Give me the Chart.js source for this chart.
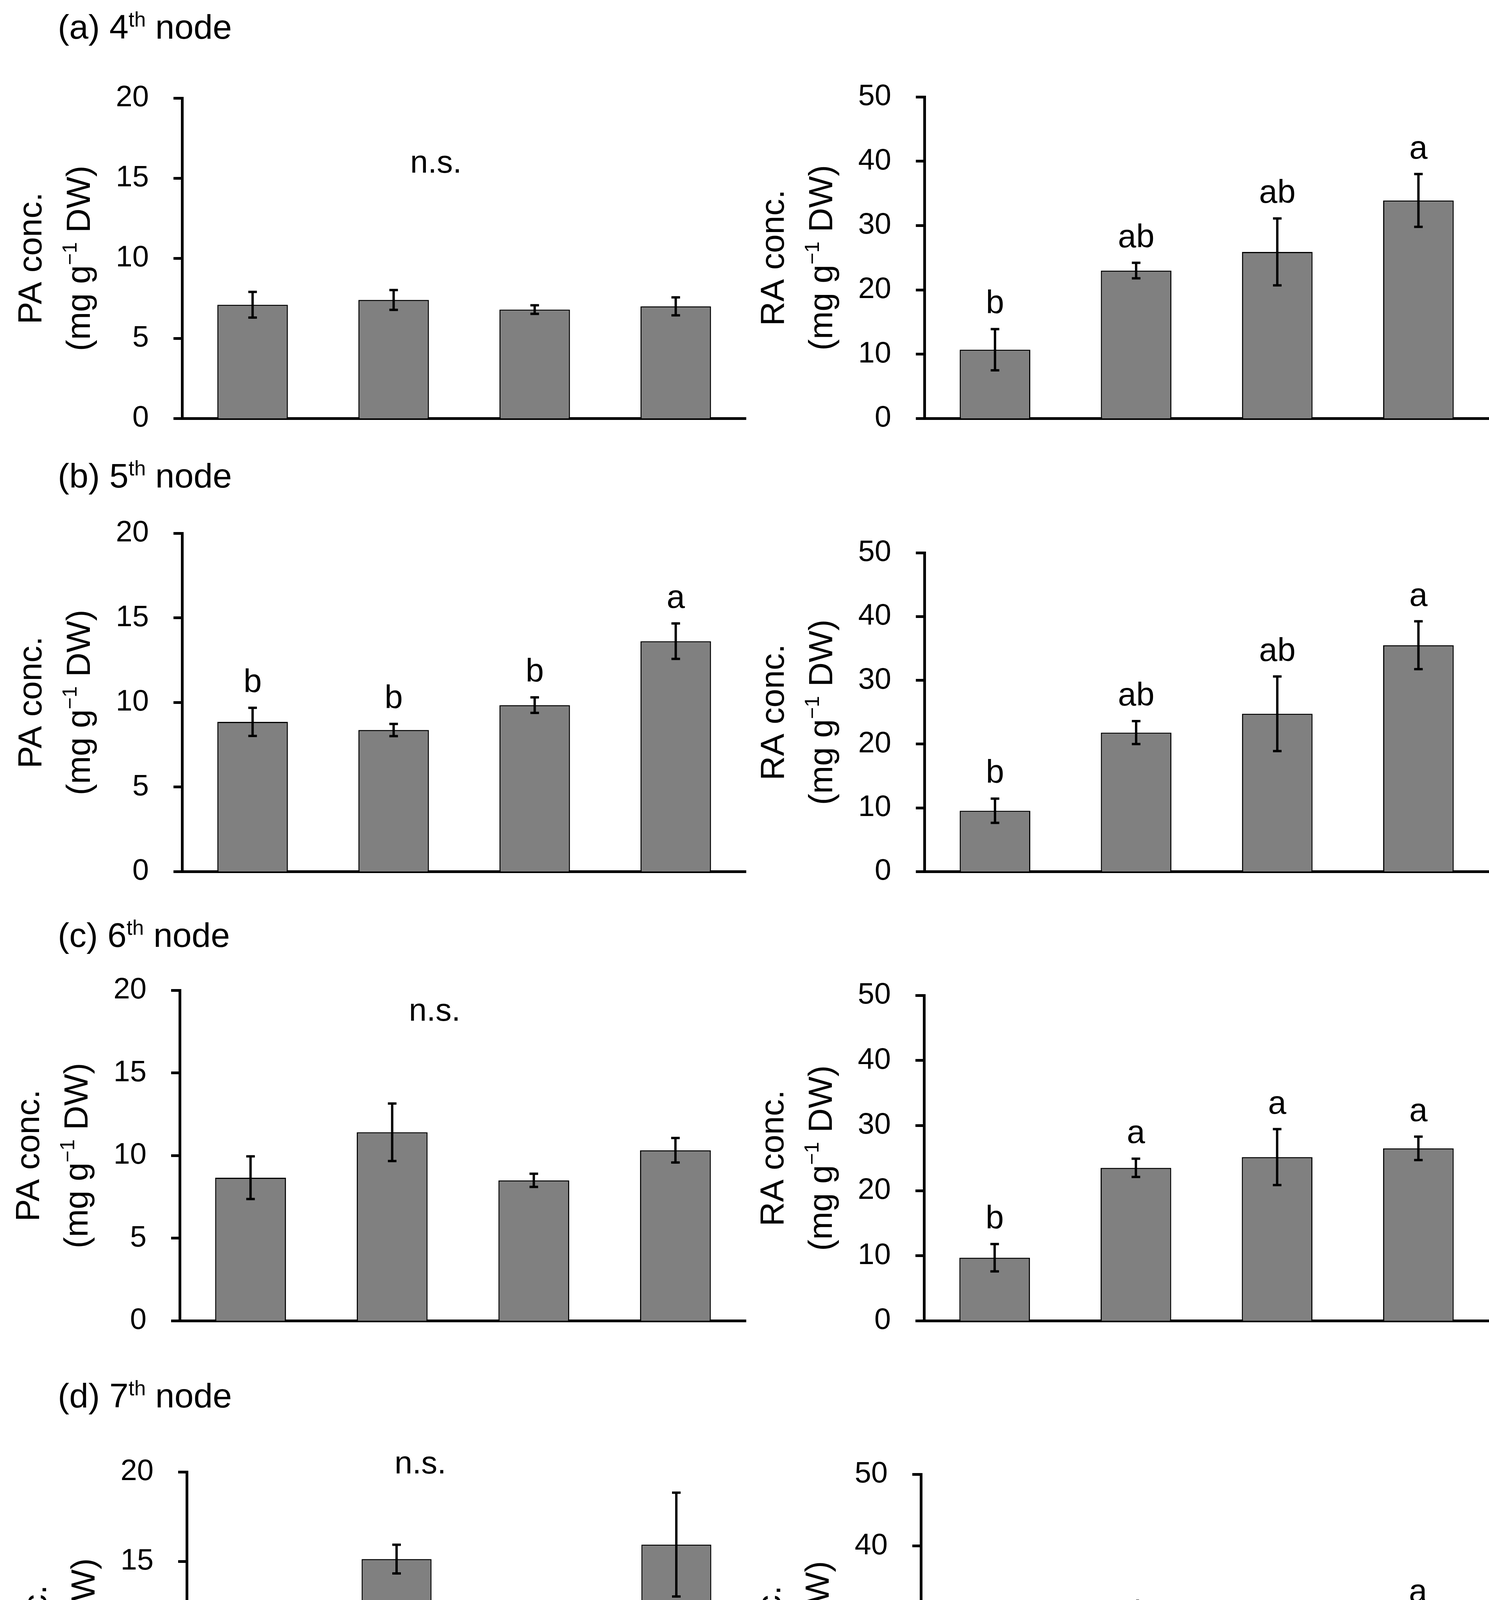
<!DOCTYPE html>
<html>
<head>
<meta charset="utf-8">
<script src="https://cdn.jsdelivr.net/npm/chart.js@4.4.1/dist/chart.umd.min.js"></script>
<style>
  html, body { margin: 0; padding: 0; background: #fff; }
  #page { position: relative; width: 3811px; height: 4916px; background: #fff; overflow: hidden; }
  #page canvas { position: absolute; }
  .ptitle { position: absolute; font-family: 'Liberation Sans', Arial, sans-serif; font-size: 88px; line-height: 88px; color: #000; white-space: nowrap; }
  .ptitle span { font-size: 53px; position: relative; top: -31px; }
</style>
</head>
<body>
<div id="page">
  <div class="ptitle" style="left:148px;top:25px">(a) 4<span>th</span> node</div>
  <div class="ptitle" style="left:148px;top:1174px">(b) 5<span>th</span> node</div>
  <div class="ptitle" style="left:148px;top:2350px">(c) 6<span>th</span> node</div>
  <div class="ptitle" style="left:148px;top:3529px">(d) 7<span>th</span> node</div>
</div>
<script>
// categories and tick labels
const treatments = ['Control', '0.05W', '0.1W', '0.2W'];
const paTicks = [0, 5, 10, 15, 20];
const raTicks = [0, 10, 20, 30, 40, 50];

// PA conc. (mg g-1 DW), mean and error per node
const pa4 = [7.1, 7.4, 6.8, 7.0];
const pa4Err = [0.8, 0.62, 0.27, 0.56];
const pa5 = [8.85, 8.37, 9.84, 13.62];
const pa5Err = [0.83, 0.36, 0.46, 1.05];
const pa6 = [8.66, 11.41, 8.5, 10.32];
const pa6Err = [1.29, 1.74, 0.4, 0.74];
const pa7 = [10.83, 15.13, 11.15, 15.94];
const pa7Err = [1.08, 0.8, 0.49, 2.9];

// RA conc. (mg g-1 DW)
const ra4 = [10.7, 23.0, 25.9, 33.9];
const ra4Err = [3.2, 1.2, 5.2, 4.1];
const ra5 = [9.55, 21.8, 24.75, 35.5];
const ra5Err = [1.9, 1.8, 5.85, 3.75];
const ra6 = [9.7, 23.5, 25.15, 26.5];
const ra6Err = [2.1, 1.4, 4.3, 1.8];
const ra7 = [17.05, 25.4, 21.4, 28.6];
const ra7Err = [2.6, 1.65, 3.2, 1.42];

// significance letters
const pa5Letters = ['b', 'b', 'b', 'a'];
const ra4Letters = ['b', 'ab', 'ab', 'a'];
const ra5Letters = ['b', 'ab', 'ab', 'a'];
const ra6Letters = ['b', 'a', 'a', 'a'];
const ra7Letters = ['b', 'ab', 'ab', 'a'];

Chart.defaults.font.family = "'Liberation Sans', Arial, sans-serif";
Chart.defaults.color = '#000';

const page = document.getElementById('page');
const AXIS_BOTTOM_ROW = 4908; // bottom edge of the x scale box on the last row

function makePanel(p) {
  const cv = document.createElement('canvas');
  cv.width = p.w; cv.height = p.h;
  cv.style.left = p.x0 + 'px'; cv.style.top = p.y0 + 'px';
  cv.style.width = p.w + 'px'; cv.style.height = p.h + 'px';
  page.appendChild(cv);

  const xH = p.lastRow ? AXIS_BOTTOM_ROW - p.bottom : 12;

  const extras = {
    id: 'extras',
    afterDatasetsDraw(chart) {
      const ctx = chart.ctx, xs = chart.scales.x, ys = chart.scales.y;
      ctx.save();
      ctx.strokeStyle = '#000';
      ctx.lineWidth = 6;
      ctx.fillStyle = '#000';
      ctx.font = "84px 'Liberation Sans', Arial, sans-serif";
      ctx.textAlign = 'center';
      ctx.textBaseline = 'alphabetic';
      p.values.forEach((v, i) => {
        const x = xs.getPixelForValue(i);
        const yHi = ys.getPixelForValue(v + p.errs[i]);
        const yLo = ys.getPixelForValue(v - p.errs[i]);
        ctx.beginPath();
        ctx.moveTo(x, yHi); ctx.lineTo(x, yLo);
        ctx.moveTo(x - 11, yHi); ctx.lineTo(x + 11, yHi);
        ctx.moveTo(x - 11, yLo); ctx.lineTo(x + 11, yLo);
        ctx.stroke();
        if (p.letters) ctx.fillText(p.letters[i], x, yHi - 40);
      });
      if (p.ns) {
        ctx.font = "82px 'Liberation Sans', Arial, sans-serif";
        ctx.textBaseline = 'middle';
        ctx.fillText('n.s.', xs.getPixelForValue(p.ns[0]), ys.getPixelForValue(p.ns[1]));
      }
      ctx.restore();
    },
    afterDraw(chart) {
      // two-line y title with a real superscript
      const ctx = chart.ctx, ca = chart.chartArea;
      const yc = (ca.top + ca.bottom) / 2;
      const size = 86, sup = 52;
      const mainFont = size + "px 'Liberation Sans', Arial, sans-serif";
      const supFont = sup + "px 'Liberation Sans', Arial, sans-serif";
      ctx.save();
      ctx.fillStyle = '#000';
      ctx.textBaseline = 'alphabetic';
      ctx.translate(ca.left - 360, yc);
      ctx.rotate(-Math.PI / 2);
      ctx.font = mainFont;
      ctx.textAlign = 'center';
      ctx.fillText(p.name + ' conc.', 0, 0);
      ctx.restore();

      ctx.save();
      ctx.fillStyle = '#000';
      ctx.textBaseline = 'alphabetic';
      ctx.textAlign = 'left';
      ctx.translate(ca.left - 236, yc);
      ctx.rotate(-Math.PI / 2);
      const a = '(mg g', b = '\u22121', c = ' DW)';
      ctx.font = mainFont; const wa = ctx.measureText(a).width, wc = ctx.measureText(c).width;
      ctx.font = supFont; const wb = ctx.measureText(b).width;
      let x = -(wa + wb + wc) / 2;
      ctx.font = mainFont; ctx.fillText(a, x, 0); x += wa;
      ctx.font = supFont; ctx.fillText(b, x, -34); x += wb;
      ctx.font = mainFont; ctx.fillText(c, x, 0);
      ctx.restore();
    }
  };

  new Chart(cv, {
    type: 'bar',
    data: {
      labels: treatments,
      datasets: [{
        data: p.values,
        backgroundColor: '#808080',
        borderColor: '#000',
        borderWidth: 3,
        barPercentage: 0.5,
        categoryPercentage: 1.0
      }]
    },
    options: {
      responsive: false,
      animation: false,
      devicePixelRatio: 1,
      layout: {
        padding: {
          left: 0,
          right: p.x0 + p.w - p.xEnd,
          top: p.top - p.y0,
          bottom: p.y0 + p.h - p.bottom - xH
        }
      },
      plugins: { legend: { display: false }, tooltip: { enabled: false } },
      scales: {
        x: {
          grid: { display: false, drawTicks: false },
          border: { display: true, color: '#000', width: 7 },
          ticks: { display: !!p.lastRow, font: { size: 74 }, padding: 45, maxRotation: 0, autoSkip: false },
          title: { display: !!p.lastRow, text: 'Treatment', font: { size: 92, lineHeight: 1 }, padding: 0 },
          afterFit: s => { s.height = xH; }
        },
        y: {
          min: p.ticks[0],
          max: p.ticks[p.ticks.length - 1],
          afterBuildTicks: s => { s.ticks = p.ticks.map(v => ({ value: v })); },
          grid: { drawOnChartArea: false, drawTicks: true, tickLength: 22, tickWidth: 7, tickColor: '#000' },
          border: { display: true, color: '#000', width: 7 },
          ticks: { font: { size: 76 }, padding: 63 },
          afterFit: s => { s.width = p.axisX - p.x0; }
        }
      }
    },
    plugins: [extras]
  });
}

// rows: canvas band and axis geometry (pixels)
const rows = [
  { y0: 0,    h: 1180, L: { axisX: 466, top: 251,  bottom: 1140 }, R: { axisX: 2366, top: 248,  bottom: 1150 } },
  { y0: 1180, h: 1160, L: { axisX: 466, top: 1365, bottom: 2282 }, R: { axisX: 2366, top: 1415, bottom: 2310 } },
  { y0: 2340, h: 1150, L: { axisX: 460, top: 2535, bottom: 3451 }, R: { axisX: 2365, top: 2548, bottom: 3464 } },
  { y0: 3490, h: 1426, L: { axisX: 478, top: 3768, bottom: 4685 }, R: { axisX: 2357, top: 3774, bottom: 4693 } }
];

const paSets = [
  { values: pa4, errs: pa4Err, ns: [1.3, 15.9] },
  { values: pa5, errs: pa5Err, letters: pa5Letters },
  { values: pa6, errs: pa6Err, ns: [1.3, 18.7] },
  { values: pa7, errs: pa7Err, ns: [1.17, 20.4] }
];
const raSets = [
  { values: ra4, errs: ra4Err, letters: ra4Letters },
  { values: ra5, errs: ra5Err, letters: ra5Letters },
  { values: ra6, errs: ra6Err, letters: ra6Letters },
  { values: ra7, errs: ra7Err, letters: ra7Letters }
];

rows.forEach((r, i) => {
  const lastRow = i === rows.length - 1;
  makePanel(Object.assign({ name: 'PA', ticks: paTicks, x0: 0, w: 1910, xEnd: 1910, y0: r.y0, h: r.h, lastRow }, r.L, paSets[i]));
  makePanel(Object.assign({ name: 'RA', ticks: raTicks, x0: 1905, w: 1906, xEnd: 3811, y0: r.y0, h: r.h, lastRow }, r.R, raSets[i]));
});

// keep the HTML titles above the canvases
document.querySelectorAll('.ptitle').forEach(d => page.appendChild(d));
</script>
</body>
</html>
